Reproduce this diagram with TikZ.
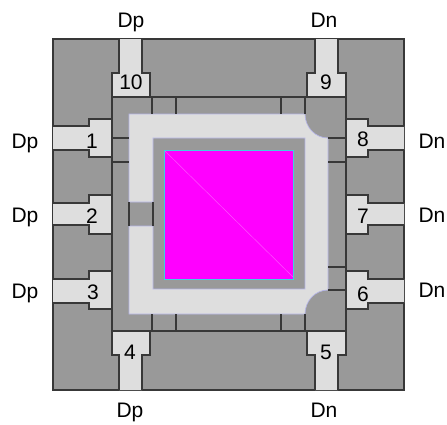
\documentclass[tikz,border=0pt]{standalone}
\usepackage{fontspec}
\setmainfont{Liberation Sans}
\usepackage{tikz}
\definecolor{chipgray}{HTML}{999999}
\definecolor{padgray}{HTML}{DEDEDE}
\definecolor{edgegray}{HTML}{383838}
\definecolor{ringedge}{HTML}{B4B4E6}
\definecolor{diecolor}{HTML}{FF00FF}
\definecolor{dieline}{HTML}{FF50FF}
\definecolor{dieedge}{HTML}{40D0E0}
\tikzstyle{pad}=[draw=edgegray,fill=padgray,line width=1.3pt,line join=miter]
\tikzstyle{wire}=[draw=edgegray,line width=1.3pt]
\tikzstyle{pinnum}=[inner sep=0pt,font=\fontsize{21}{21}\selectfont,text=black]
\tikzstyle{pinlabel}=[inner sep=0pt,anchor=base,font=\fontsize{21}{21}\selectfont,text=black]

\begin{document}
\begin{tikzpicture}[x=1pt,y=-1pt]
	\useasboundingbox (0,0) rectangle (447,424);
	% body
	\draw[wire,fill=chipgray] (53,39) rectangle (404,390);
	\draw[wire] (112,97) rectangle (346,331);
	% ring
	\draw[draw=ringedge,line width=0.7pt,fill=padgray] (129,202) -- (129,114) -- (305,114)
		.. controls (305,127) and (315,138) .. (328,138) -- (328,290)
		.. controls (315,290) and (305,301) .. (305,314) -- (129,314) -- (129,226)
		-- (153,226) -- (153,289) -- (305,289) -- (305,138) -- (153,138) -- (153,202) -- cycle;
	% die
	\draw[draw=dieedge,line width=1pt,fill=diecolor] (164,150) rectangle (293,279);
	\draw[dieline,line width=0.5pt] (165,151) -- (293,277);
	% gap
	\draw[wire] (129,202) -- (129,226);
	\draw[wire] (153,202) -- (153,226);
	% top and bottom ticks
	\draw[wire] (152,97) -- (152,114);
	\draw[wire] (176,97) -- (176,114);
	\draw[wire] (281,97) -- (281,114);
	\draw[wire] (305,97) -- (305,114);
	\draw[wire] (152,314) -- (152,331);
	\draw[wire] (176,314) -- (176,331);
	\draw[wire] (281,314) -- (281,331);
	\draw[wire] (305,314) -- (305,331);
	% side ticks
	\draw[wire] (112,138) -- (129,138);
	\draw[wire] (112,162) -- (129,162);
	\draw[wire] (328,138) -- (346,138);
	\draw[wire] (328,162) -- (346,162);
	\draw[wire] (328,267) -- (346,267);
	\draw[wire] (328,290) -- (346,290);
	% top pads
	\draw[pad] (119,39) -- (119,73) -- (112,73) -- (112,97) -- (150,97) -- (150,73) -- (142,73) -- (142,39);
	\draw[pad] (315,39) -- (315,73) -- (307,73) -- (307,97) -- (346,97) -- (346,73) -- (338,73) -- (338,39);
	% bottom pads
	\draw[pad] (119,390) -- (119,355) -- (112,355) -- (112,331) -- (150,331) -- (150,355) -- (142,355) -- (142,390);
	\draw[pad] (315,390) -- (315,355) -- (307,355) -- (307,331) -- (346,331) -- (346,355) -- (338,355) -- (338,390);
	% left pads
	\draw[pad] (53,126) -- (89,126) -- (89,119) -- (112,119) -- (112,157) -- (89,157) -- (89,150) -- (53,150);
	\draw[pad] (53,203) -- (89,203) -- (89,195) -- (112,195) -- (112,234) -- (89,234) -- (89,225) -- (53,225);
	\draw[pad] (53,279) -- (89,279) -- (89,271) -- (112,271) -- (112,309) -- (89,309) -- (89,303) -- (53,303);
	% right pads
	\draw[pad] (404,126) -- (368,126) -- (368,119) -- (346,119) -- (346,157) -- (368,157) -- (368,150) -- (404,150);
	\draw[pad] (404,203) -- (368,203) -- (368,195) -- (346,195) -- (346,234) -- (368,234) -- (368,225) -- (404,225);
	\draw[pad] (404,279) -- (368,279) -- (368,271) -- (346,271) -- (346,309) -- (368,309) -- (368,303) -- (404,303);
	% numbers
	\node[pinnum] (n10) at (131,82) {10};
	\node[pinnum] (n1) at (92,141) {1};
	\node[pinnum] (n2) at (92,216) {2};
	\node[pinnum] (n3) at (93,292) {3};
	\node[pinnum] (n4) at (130,352) {4};
	\node[pinnum] (n5) at (326,352) {5};
	\node[pinnum] (n6) at (363,294) {6};
	\node[pinnum] (n7) at (363,216) {7};
	\node[pinnum] (n8) at (363,139) {8};
	\node[pinnum] (n9) at (326,82) {9};
	% pin names
	\node[pinlabel] (dptop) at (131,27) {Dp};
	\node[pinlabel] (dntop) at (324,27) {Dn};
	\node[pinlabel] (dpa) at (25,148) {Dp};
	\node[pinlabel] (dpb) at (25,222) {Dp};
	\node[pinlabel] (dpc) at (25,298) {Dp};
	\node[pinlabel] (dna) at (432,148) {Dn};
	\node[pinlabel] (dnb) at (432,222) {Dn};
	\node[pinlabel] (dnc) at (432,297) {Dn};
	\node[pinlabel] (dpbot) at (130,417) {Dp};
	\node[pinlabel] (dnbot) at (324,417) {Dn};
\end{tikzpicture}
\end{document}
